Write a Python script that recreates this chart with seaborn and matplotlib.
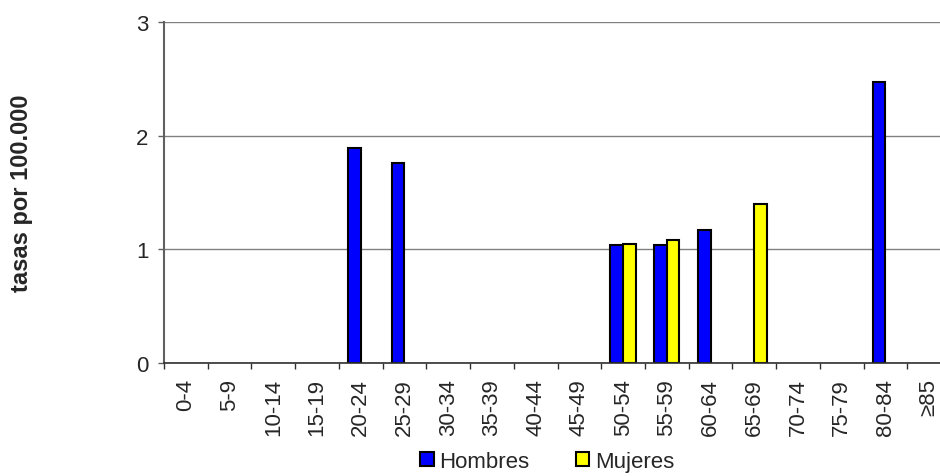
import numpy as np
import pandas as pd
import matplotlib
matplotlib.use("Agg")
import matplotlib.pyplot as plt
from matplotlib.patches import Patch
import seaborn as sns

# ---- data ----
grupos = ["0-4", "5-9", "10-14", "15-19", "20-24", "25-29", "30-34", "35-39",
          "40-44", "45-49", "50-54", "55-59", "60-64", "65-69", "70-74",
          "75-79", "80-84", "≥85"]
hombres = [0, 0, 0, 0, 1.89, 1.76, 0, 0, 0, 0, 1.04, 1.04, 1.17, 0, 0, 0, 2.47, 0]
mujeres = [0, 0, 0, 0, 0, 0, 0, 0, 0, 0, 1.05, 1.08, 0, 1.40, 0, 0, 0, 0]
series = ["Hombres", "Mujeres"]
colores = {"Hombres": "#0000FF", "Mujeres": "#FFFF00"}
y_ticks = [0, 1, 2, 3]
y_label = "tasas por 100.000"

sns.set_theme(style="white")
plt.rcParams["font.family"] = ["Liberation Sans", "DejaVu Sans"]

n = len(grupos)
df = pd.DataFrame({
    "grupo": grupos * 2,
    "serie": ["Hombres"] * n + ["Mujeres"] * n,
    "tasa": hombres + mujeres,
})
df["tasa_plot"] = df["tasa"].replace(0, np.nan)

FS = 16

fig = plt.figure(figsize=(9.4, 4.77), dpi=100)
ax = fig.add_axes([0.1745, 0.2369, 0.8372, 0.7149])

sns.barplot(data=df, x="grupo", y="tasa_plot", hue="serie", order=grupos,
            hue_order=series, palette=colores, width=0.58, dodge=True,
            edgecolor="black", linewidth=1.5, errorbar=None, ax=ax,
            saturation=1, legend=False)

ax.set_xlim(-0.5, n - 0.5)
ax.set_ylim(0, 3)
ax.set_yticks(y_ticks)
ax.set_yticklabels([str(t) for t in y_ticks], fontsize=FS)
ax.set_xlabel("")
ax.set_ylabel(y_label, fontsize=17, fontweight="bold")
ax.yaxis.set_label_coords(-0.1665, 0.5)

ax.set_xticks(range(n))
ax.set_xticklabels(grupos, rotation=90, fontsize=FS)
ax.set_xticks(np.arange(-0.5, n, 1.0), minor=True)
ax.tick_params(axis="x", which="major", length=0, pad=11)
ax.tick_params(axis="x", which="minor", length=4.3, width=1.0,
               color="#303030", direction="out", bottom=True)
ax.tick_params(axis="y", which="major", length=4.3, width=1.0,
               color="#606060", direction="out", left=True, pad=7)

ax.set_axisbelow(True)
ax.grid(axis="y", color="#808080", linewidth=1.0)
ax.grid(axis="x", visible=False)

for s in ["top", "right"]:
    ax.spines[s].set_visible(False)
ax.spines["left"].set_color("#606060")
ax.spines["left"].set_linewidth(1.5)
ax.spines["bottom"].set_color("#303030")
ax.spines["bottom"].set_linewidth(1.2)

handles = [Patch(facecolor=colores[s], edgecolor="black", linewidth=1.5)
           for s in series]
fig.legend(handles, series, loc="center", bbox_to_anchor=(0.582, 0.031),
           ncol=2, frameon=False, fontsize=FS, handlelength=0.6,
           handleheight=0.6, handletextpad=0.25, columnspacing=2.1,
           borderpad=0, borderaxespad=0)

fig.savefig("out.png", dpi=100)
